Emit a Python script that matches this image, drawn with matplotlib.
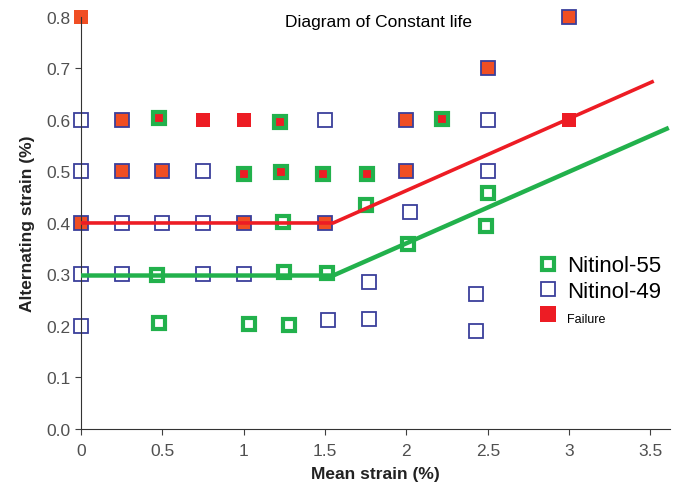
import matplotlib
matplotlib.use('Agg')
import matplotlib.pyplot as plt
from matplotlib.lines import Line2D

plt.rcParams['font.family'] = ['Liberation Sans', 'DejaVu Sans']

# Nitinol-49 tests (1 = failure)
n49_x = [0, 0.25, 1.5, 2.0, 2.5,
         0, 0.25, 0.5, 0.75, 2.0, 2.5,
         0, 0.25, 0.5, 0.75, 1.0, 1.5,
         0, 0.25, 0.75, 1.0,
         0, 1.52, 1.77, 1.77, 2.02, 2.43, 2.43,
         2.5, 3.0]
n49_y = [0.6, 0.6, 0.6, 0.6, 0.6,
         0.5, 0.5, 0.5, 0.5, 0.5, 0.5,
         0.4, 0.4, 0.4, 0.4, 0.4, 0.4,
         0.3, 0.3, 0.3, 0.3,
         0.2, 0.212, 0.214, 0.285, 0.421, 0.262, 0.19,
         0.7, 0.8]
n49_fail = [0, 1, 0, 1, 0,
            0, 1, 1, 0, 1, 0,
            1, 0, 0, 0, 1, 1,
            0, 0, 0, 0,
            0, 0, 0, 0, 0, 0, 0,
            1, 1]

# Nitinol-55 tests (1 = failure)
n55_x = [0.48, 1.22, 2.22,
         1.0, 1.23, 1.49, 1.76,
         1.24, 1.75,
         0.47, 1.25, 1.51,
         2.01, 2.5, 2.49,
         0.48, 1.03, 1.28]
n55_y = [0.603, 0.597, 0.602,
         0.496, 0.499, 0.495, 0.495,
         0.401, 0.434,
         0.299, 0.305, 0.303,
         0.359, 0.458, 0.394,
         0.206, 0.204, 0.202]
n55_fail = [1, 1, 1,
            1, 1, 1, 1,
            0, 0,
            0, 0, 0,
            0, 0, 0,
            0, 0, 0]

# failures without material marker
fail_x = [0, 0.75, 1.0, 3.0]
fail_y = [0.8, 0.6, 0.6, 0.6]

# constant life lines
red_x = [0, 1.55, 3.51]
red_y = [0.4, 0.4, 0.674]
green_x = [0, 1.55, 3.6]
green_y = [0.298, 0.298, 0.583]

BLUE = '#3a3f9b'
GREEN = '#22b14c'
RED = '#ed1c24'
ORANGE = '#f04e23'

fig = plt.figure(figsize=(6.75, 4.85), dpi=100)
ax = fig.add_axes([0.12, 0.1134, 0.8726, 0.8496])

for x, y, f in zip(n49_x, n49_y, n49_fail):
    ax.plot(x, y, 's', ms=9.5, mew=1.3, mec=BLUE,
            mfc=ORANGE if f else 'white', zorder=2, clip_on=False)
for x, y, f in zip(n55_x, n55_y, n55_fail):
    ax.plot(x, y, 's', ms=9, mew=3, mec=GREEN,
            mfc=RED if f else 'white', zorder=2, clip_on=False)
for x, y in zip(fail_x, fail_y):
    ax.plot(x, y, 's', ms=10, mew=0, mfc=ORANGE if y > 0.7 else RED,
            zorder=2, clip_on=False)

ax.plot(red_x, red_y, color=RED, lw=2.6, zorder=3)
ax.plot(green_x, green_y, color=GREEN, lw=3.2, zorder=3)

ax.set_xlim(0, 3.62)
ax.set_ylim(0, 0.8)
ax.set_xticks([0, 0.5, 1, 1.5, 2, 2.5, 3, 3.5])
ax.set_xticklabels(['0', '0.5', '1', '1.5', '2', '2.5', '3', '3.5'])
ax.set_yticks([0, 0.1, 0.2, 0.3, 0.4, 0.5, 0.6, 0.7, 0.8])
ax.set_yticklabels(['0.0', '0.1', '0.2', '0.3', '0.4', '0.5', '0.6', '0.7', '0.8'])
ax.tick_params(labelsize=12.5, labelcolor='#505050', color='#404040', length=4)
ax.tick_params(axis='x', pad=6)
for s in ['top', 'right']:
    ax.spines[s].set_visible(False)
for s in ['left', 'bottom']:
    ax.spines[s].set_color('#333333')

ax.set_xlabel('Mean strain (%)', fontsize=12.5, fontweight='bold', color='#222222',
              labelpad=6)
ax.set_ylabel('Alternating strain (%)', fontsize=12.5, fontweight='bold', color='#222222',
              labelpad=8)
ax.text(0.505, 0.99, 'Diagram of Constant life', transform=ax.transAxes,
        ha='center', va='center', fontsize=12.5)

handles = [
    Line2D([], [], ls='', marker='s', ms=9, mew=3, mec=GREEN, mfc='white'),
    Line2D([], [], ls='', marker='s', ms=9.5, mew=1.3, mec=BLUE, mfc='white'),
    Line2D([], [], ls='', marker='s', ms=11, mew=0, mfc=RED),
]
leg = ax.legend(handles, ['Nitinol-55', 'Nitinol-49', 'Failure'], loc='upper left',
                bbox_to_anchor=(0.736, 0.47), frameon=False, fontsize=16,
                handletextpad=0.25, labelspacing=0.2, handlelength=1.2)
leg.get_texts()[2].set_fontsize(9)

fig.savefig('out.png', dpi=100)
